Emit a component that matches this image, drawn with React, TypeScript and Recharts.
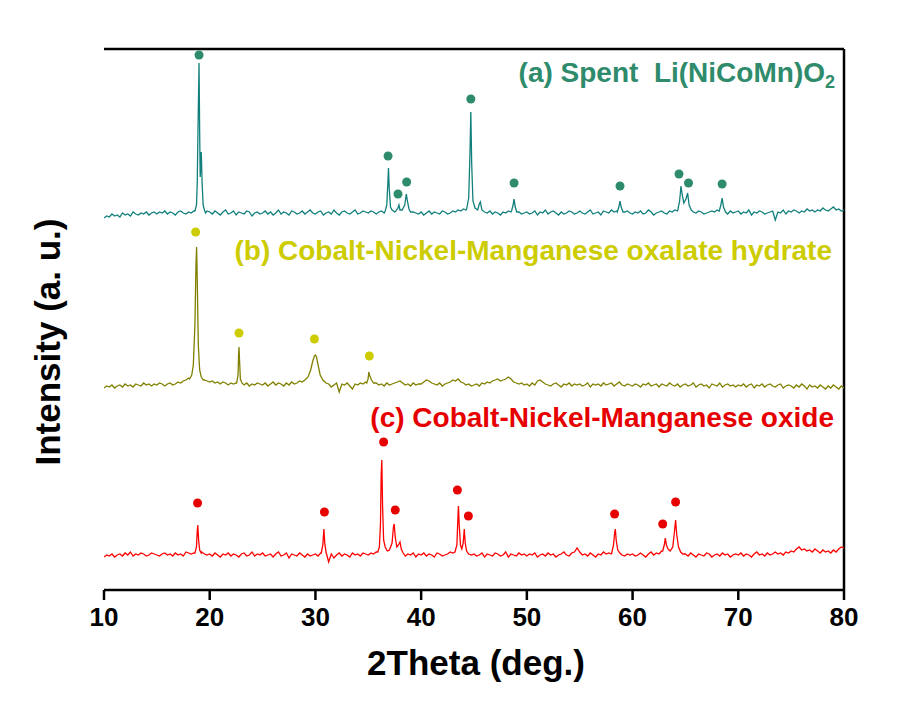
import React from "react";
import {
  ComposedChart,
  Line,
  Scatter,
  XAxis,
  YAxis,
  ReferenceLine,
} from "recharts";

const FONT = "'Liberation Sans', Arial, Helvetica, sans-serif";

const twoThetaTicks = [10, 20, 30, 40, 50, 60, 70, 80];

// baseline noise, one value every 0.25 deg from 10 to 80 (20 values per row = 5 deg)
const spentNoise = [
  -5, -3, -4, -1, -3, -2, -4, 0, -2, -1, -3, 1, -1, -2, 0, -1, 1, -2, 0, 1,
  -1, 1, 0, 2, -1, 1, 0, -2, 1, 2, 0, -1, 1, 0, 2, 3, 0, 0, 1, 2,
  1, -1, 2, 0, -2, 1, 3, -1, 0, 2, -2, 1, 0, -1, 2, 1, -3, 0, 1, -1,
  0, 2, -1, 1, -2, 0, 3, -1, 1, 0, -2, 2, 1, -1, 0, 2, -1, 1, 3, 0,
  -1, 1, 2, -2, 0, 1, -1, 3, 0, -2, 1, 2, 0, -1, 1, 3, -1, 0, 2, 1,
  0, 2, 1, -1, 1, 2, 0, 3, 2, 1, 1, 0, 2, 1, 3, 2, 2, 1, 0, -1,
  1, -2, 0, 2, -1, 1, 0, -1, 2, 1, -1, 0, 2, 1, 3, 2, 4, 3, 5, 3,
  2, 4, 3, 2, 1, 0, 2, -1, 1, 0, -2, 1, 0, 2, 1, 3, 0, 1, -1, 0,
  1, -1, 0, 2, -2, 1, 0, 3, -1, 1, 2, 0, -2, 1, -1, 0, 2, 1, -1, 0,
  2, 0, -1, 1, 3, -1, 0, 1, -2, 2, 1, 0, 3, 1, 2, 0, -1, 1, 2, 0,
  -1, 1, 0, 2, -1, 0, 3, 1, -2, 0, 1, 2, 0, -1, 2, 1, 3, 2, 4, 6,
  5, 3, 2, 1, 0, 2, 1, -1, 0, 1, 2, 1, 3, 2, 1, 0, -1, 2, 0, 1,
  2, -1, 1, 0, 3, -2, 1, 0, 2, 1, -1, 0, 1, 2, -7, 1, 0, 3, -1, 2,
  1, 3, 2, 0, 2, 1, 4, 2, 3, 1, 3, 2, 5, 3, 2, 4, 6, 3, 4, 2,
  3,
];

const oxalateNoise = [
  -3, -1, -2, 0, -3, -1, 0, -2, 1, -1, 0, -2, 1, 0, -1, 2, 0, 1, -1, 1,
  0, 2, 1, -1, 1, 2, 0, 1, 3, 2, 4, 5, 7, 9, 12, 15, 10, 6, 5, 4,
  3, 4, 2, 3, 1, 3, 2, 0, 2, 1, 2, 5, 1, 0, 2, -1, 1, 0, 2, 1,
  0, 2, -1, 1, 3, 0, 2, 1, -1, 2, 0, 3, 1, 2, 4, 3, 5, 7, 12, 20,
  30, 28, 20, 10, 3, 1, -2, 0, 2, -7, 1, 0, 2, -1, -4, 1, 0, 2, 1, 3,
  0, 0, 0, 2, 0, 1, -1, 2, 0, 1, 2, 3, 4, 2, 0, 1, -1, 2, 0, 1,
  1, 3, 5, 4, 2, 1, 0, 2, -1, 1, 2, 3, 5, 4, 6, 3, 2, 0, 1, -1,
  0, 1, -1, 2, 1, 3, 2, 4, 5, 6, 4, 5, 6, 8, 6, 3, 2, 1, 2, 0,
  1, -1, 2, 0, 4, 5, 3, 1, 0, -1, 1, 2, 0, -2, 1, 0, 2, -1, 1, 0,
  1, -1, 0, 2, -2, 1, 0, 1, -1, 2, 0, 1, 2, -1, 1, 3, 0, -1, 1, 0,
  -1, 1, 0, -2, 1, 0, 2, -1, 0, 1, -2, 1, 0, -1, 2, 0, -1, 1, -2, 0,
  1, -1, 0, 2, -2, 0, 1, -1, 0, -3, 1, 0, -1, 2, -2, 0, 1, -1, 0, -2,
  0, -1, 1, -2, 0, 1, -3, 0, -1, 1, -2, 0, 1, -1, -2, 0, 1, -3, -1, 0,
  -1, -3, 0, -2, 1, -1, -4, 0, -2, -1, -3, 0, -2, -4, -1, -3, 0, -2, -4, -1,
  -3,
];

const oxideNoise = [
  -2, 0, -1, 1, -2, 0, 1, -1, 2, 0, 3, -1, 1, 0, 2, 1, -1, 0, 2, 1,
  0, -1, 1, 2, 0, 1, -1, 2, 0, 1, -1, 3, 2, 1, 2, 8, 6, 3, 1, 0,
  1, -1, 2, 0, -2, 1, 0, 2, -1, 1, 0, -2, 1, 2, -1, 0, 3, -1, 1, 0,
  2, -1, 0, 1, -2, 1, 3, -1, 0, 2, -3, 1, 0, -1, 2, 0, -2, 1, -1, 0,
  1, -1, 2, 5, 3, -7, 1, -3, 0, 2, -1, 1, 0, -2, 2, 0, 1, -1, 2, 1,
  0, 2, 1, 3, 0, 0, 0, 0, 0, 0, 0, 0, 0, 0, -1, 1, 0, 2, -2, 1,
  0, 2, -1, 1, 0, -2, 2, 1, -1, 0, 1, 3, 2, 0, 0, 0, 0, 0, 0, 0,
  1, -1, 0, 2, -2, 1, 0, -1, 2, 1, -1, 0, 3, -2, 1, 0, -1, 2, 0, 1,
  -1, 1, 0, 2, -2, 0, 1, -1, 2, 0, 1, -2, 0, 1, 3, 0, -1, 2, 3, 7,
  3, 0, 1, -1, 2, 0, -2, 1, 0, 3, 1, 2, 1, 0, 0, 2, 0, -1, 1, 0,
  1, -1, 0, 2, 0, -2, 1, 3, 0, 2, 1, 4, 0, 0, 0, 0, 0, 0, 0, 1,
  1, -1, 2, 0, -2, 1, 0, -1, 2, 1, -2, 0, 1, -1, 2, 0, 1, -2, 0, 1,
  0, 2, -1, 1, 0, -2, 1, 3, 0, 1, -1, 2, 0, 1, 3, 1, 2, 0, 3, 2,
  4, 3, 6, 8, 5, 6, 4, 5, 3, 6, 4, 2, 5, 3, 4, 2, 5, 3, 6, 8,
  7,
];

// peak profiles: [2theta, intensity above baseline]
const spentPeaks: [number, number][][] = [
  [[18.6, 2], [18.75, 8], [18.82, 30], [18.9, 90], [18.99, 150], [19.05, 80], [19.1, 36], [19.2, 61], [19.28, 30], [19.38, 8], [19.5, 3], [19.6, 0]],
  [[36.6, 2], [36.75, 8], [36.85, 30], [36.91, 45], [36.98, 25], [37.1, 6], [37.25, 3]],
  [[37.6, 2], [37.8, 5], [37.9, 8], [38.0, 3], [38.2, 3], [38.45, 8], [38.6, 19], [38.7, 12], [38.85, 4], [39.0, 1]],
  [[44.3, 4], [44.5, 15], [44.62, 60], [44.7, 101], [44.78, 50], [44.9, 12], [45.1, 5], [45.35, 3], [45.5, 9], [45.6, 11], [45.75, 3]],
  [[48.55, 2], [48.7, 8], [48.79, 14], [48.9, 6], [49.05, 1]],
  [[58.55, 1], [58.7, 6], [58.81, 12], [58.92, 6], [59.1, 1]],
  [[64.3, 4], [64.45, 12], [64.58, 27], [64.7, 18], [64.85, 10], [65.05, 14], [65.21, 20], [65.35, 8], [65.55, 3]],
  [[68.2, 2], [68.35, 8], [68.47, 15], [68.6, 6], [68.8, 1]],
];

const oxalatePeaks: [number, number][][] = [
  [[18.1, 6], [18.3, 10], [18.45, 20], [18.6, 60], [18.7, 120], [18.76, 138], [18.83, 100], [18.92, 40], [19.05, 15], [19.2, 8], [19.4, 5]],
  [[22.55, 2], [22.68, 10], [22.73, 30], [22.77, 38], [22.82, 25], [22.9, 6], [23.05, 2]],
  [[29.0, 5], [29.3, 8], [29.55, 15], [29.75, 24], [29.9, 29], [30.0, 30], [30.1, 28], [30.25, 20], [30.45, 10], [30.7, 5], [31.0, 2]],
  [[34.85, 2], [34.98, 6], [35.05, 13], [35.15, 9], [35.3, 5], [35.5, 2]],
];

const oxidePeaks: [number, number][][] = [
  [[18.6, 2], [18.75, 8], [18.82, 24], [18.87, 30], [18.95, 15], [19.05, 5], [19.2, 2]],
  [[30.55, 2], [30.7, 10], [30.8, 26], [30.88, 12], [31.0, 3]],
  [[35.9, 3], [36.05, 8], [36.15, 30], [36.22, 80], [36.28, 95], [36.35, 50], [36.45, 15], [36.6, 8], [36.8, 4], [37.0, 5], [37.25, 12], [37.38, 28], [37.45, 31], [37.55, 18], [37.7, 8], [37.85, 10], [38.0, 13], [38.12, 6], [38.3, 2]],
  [[43.2, 3], [43.38, 10], [43.47, 35], [43.53, 49], [43.6, 30], [43.72, 10], [43.85, 6], [43.98, 12], [44.08, 26], [44.17, 12], [44.3, 4], [44.5, 1]],
  [[58.05, 3], [58.2, 10], [58.3, 22], [58.37, 26], [58.45, 15], [58.6, 5], [58.8, 2]],
  [[62.85, 4], [63.0, 10], [63.1, 17], [63.2, 10], [63.35, 6], [63.55, 4], [63.8, 8], [63.95, 22], [64.07, 35], [64.18, 20], [64.35, 8], [64.55, 3]],
];

// marker dots above the peaks: [2theta, height above baseline]
const spentMarks: [number, number][] = [
  [18.99, 158], [36.87, 57], [37.81, 19], [38.63, 31], [44.7, 114],
  [48.79, 30], [58.81, 27], [64.39, 39], [65.29, 30], [68.47, 29],
];
const oxalateMarks: [number, number][] = [
  [18.67, 153], [22.77, 52], [29.9, 46], [35.1, 29],
];
const oxideMarks: [number, number][] = [
  [18.85, 52], [30.85, 43], [36.45, 113], [37.55, 45], [43.43, 65],
  [44.47, 39], [58.3, 41], [62.85, 31], [64.07, 53],
];

// vertical stacking offsets of the three patterns
const OFFSET_A = 377;
const OFFSET_B = 205;
const OFFSET_C = 35;

const buildPattern = (
  noise: number[],
  peaks: [number, number][][],
  offset: number,
) => {
  const pts: [number, number][] = [];
  noise.forEach((v, i) => {
    const x = 10 + i * 0.25;
    const inPeak = peaks.some(
      (seg) => x >= seg[0][0] && x <= seg[seg.length - 1][0],
    );
    if (!inPeak) pts.push([x, v]);
  });
  peaks.forEach((seg) => seg.forEach((p) => pts.push(p)));
  pts.sort((a, b) => a[0] - b[0]);
  return pts.map(([x, v]) => ({ x, y: v + offset }));
};

const buildMarks = (marks: [number, number][], offset: number) =>
  marks.map(([x, h]) => ({ x, y: h + offset }));

const patternA = buildPattern(spentNoise, spentPeaks, OFFSET_A);
const patternB = buildPattern(oxalateNoise, oxalatePeaks, OFFSET_B);
const patternC = buildPattern(oxideNoise, oxidePeaks, OFFSET_C);

const marksA = buildMarks(spentMarks, OFFSET_A);
const marksB = buildMarks(oxalateMarks, OFFSET_B);
const marksC = buildMarks(oxideMarks, OFFSET_C);

const W = 892;
const H = 690;

const dot = (color: string) => (props: { cx?: number; cy?: number }) =>
  <circle cx={props.cx} cy={props.cy} r={4.5} fill={color} />;

export default function App() {
  const axisStyle = { stroke: "#000", strokeWidth: 2.5 };
  return (
    <div style={{ position: "relative", width: W, height: H }}>
      <ComposedChart
        width={W}
        height={H}
        margin={{ top: 41, right: 56, left: 96, bottom: 78 }}
      >
        <XAxis
          dataKey="x"
          type="number"
          domain={[10, 80]}
          ticks={twoThetaTicks}
          allowDataOverflow
          height={30}
          tickSize={10}
          tickMargin={8}
          axisLine={axisStyle}
          tickLine={axisStyle}
          tick={{ fill: "#000", fontSize: 26, fontWeight: "bold", fontFamily: FONT }}
        />
        <YAxis
          dataKey="y"
          type="number"
          domain={[0, 541]}
          allowDataOverflow
          width={0}
          tick={false}
          tickLine={false}
          axisLine={axisStyle}
        />
        <ReferenceLine y={541} stroke="#000" strokeWidth={2.5} />
        <ReferenceLine x={80} stroke="#000" strokeWidth={2.5} />
        <Line data={patternA} dataKey="y" type="linear" stroke="#11807d" strokeWidth={1.3} dot={false} isAnimationActive={false} />
        <Line data={patternB} dataKey="y" type="linear" stroke="#808000" strokeWidth={1.3} dot={false} isAnimationActive={false} />
        <Line data={patternC} dataKey="y" type="linear" stroke="#ff0000" strokeWidth={1.3} dot={false} isAnimationActive={false} />
        <Scatter data={marksA} dataKey="y" shape={dot("#2e8b6b")} isAnimationActive={false} />
        <Scatter data={marksB} dataKey="y" shape={dot("#cccc00")} isAnimationActive={false} />
        <Scatter data={marksC} dataKey="y" shape={dot("#e60000")} isAnimationActive={false} />
      </ComposedChart>
      <svg
        width={W}
        height={H}
        style={{ position: "absolute", left: 0, top: 0, pointerEvents: "none" }}
        fontFamily={FONT}
        fontWeight="bold"
      >
        <text x={827} y={74} textAnchor="end" fontSize={28} fill="#2e8b6b" style={{ whiteSpace: "pre" }}>
          {"(a) Spent  Li(NiCoMn)O"}
          <tspan fontSize={18} dy={6}>2</tspan>
        </text>
        <text x={824} y={252} textAnchor="end" fontSize={28} fill="#cccc00">
          (b) Cobalt-Nickel-Manganese oxalate hydrate
        </text>
        <text x={826} y={419} textAnchor="end" fontSize={28} fill="#e60000">
          (c) Cobalt-Nickel-Manganese oxide
        </text>
        <text x={468} y={667} textAnchor="middle" fontSize={35} fill="#000">
          2Theta (deg.)
        </text>
        <text transform="translate(52,334) rotate(-90)" textAnchor="middle" fontSize={35} fill="#000">
          Intensity (a. u.)
        </text>
      </svg>
    </div>
  );
}
